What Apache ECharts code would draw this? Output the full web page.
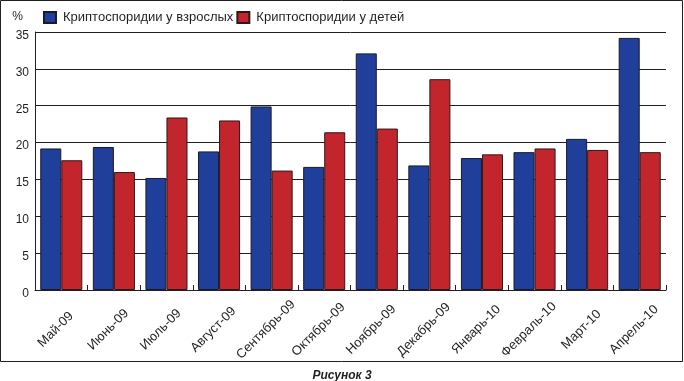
<!DOCTYPE html>
<html>
<head>
<meta charset="utf-8">
<script src="https://cdn.jsdelivr.net/npm/echarts@6/dist/echarts.min.js"></script>
<style>
html,body{margin:0;padding:0;background:#fff;}
#chart{width:684px;height:381px;}
</style>
</head>
<body>
<div id="chart"></div>
<script>
const categories = ['Май-09','Июнь-09','Июль-09','Август-09','Сентябрь-09','Октябрь-09','Ноябрь-09','Декабрь-09','Январь-10','Февраль-10','Март-10','Апрель-10'];
const adults = [19.2, 19.4, 15.2, 18.8, 24.9, 16.7, 32.1, 16.9, 17.9, 18.7, 20.5, 34.2];
const children = [17.6, 16.0, 23.4, 23.0, 16.2, 21.4, 21.9, 28.6, 18.4, 19.2, 19.0, 18.7];
const seriesNames = ['Криптоспоридии у взрослых', 'Криптоспоридии у детей'];
const yTicks = [0, 5, 10, 15, 20, 25, 30, 35];

const FONT = '"Liberation Sans", Arial, sans-serif';
const chart = echarts.init(document.getElementById('chart'), null, {renderer: 'canvas'});
chart.setOption({
  animation: false,
  backgroundColor: '#fff',
  textStyle: {fontFamily: FONT},
  title: {
    text: 'Рисунок 3',
    left: 'center',
    top: 365,
    textStyle: {fontFamily: FONT, fontSize: 12, fontWeight: 'bold', fontStyle: 'italic', color: '#231f20'}
  },
  graphic: [{
    type: 'rect',
    shape: {x: 0.5, y: 0.5, width: 682, height: 361},
    style: {fill: 'none', stroke: '#231f20', lineWidth: 1},
    silent: true
  }],
  legend: {
    data: seriesNames,
    left: 43,
    top: 11,
    padding: 0,
    icon: 'rect',
    itemWidth: 12,
    itemHeight: 11,
    itemGap: 3,
    textStyle: {fontFamily: FONT, fontSize: 13, color: '#231f20', padding: [0, 0, 0, 2]}
  },
  grid: {left: 35, right: 18, top: 32, bottom: 91, containLabel: false},
  xAxis: {
    type: 'category',
    data: categories,
    boundaryGap: true,
    axisLine: {show: true, lineStyle: {color: '#231f20', width: 1}},
    axisTick: {show: true, inside: true, length: 5, alignWithLabel: false, lineStyle: {color: '#231f20'}},
    axisLabel: {
      interval: 0,
      rotate: 45,
      align: 'center',
      verticalAlign: 'middle',
      margin: 34,
      padding: [0, 16, 0, 0],
      fontFamily: FONT,
      fontSize: 13,
      color: '#231f20'
    },
    splitLine: {show: false}
  },
  yAxis: {
    type: 'value',
    min: yTicks[0],
    max: yTicks[yTicks.length - 1],
    interval: 5,
    name: '%',
    nameLocation: 'end',
    nameGap: 15,
    nameTextStyle: {fontFamily: FONT, fontSize: 12, color: '#231f20', align: 'right', verticalAlign: 'middle', padding: [4, 12, 0, 0]},
    axisLine: {show: true, lineStyle: {color: '#231f20', width: 1}},
    axisTick: {show: false},
    axisLabel: {
      margin: 6,
      formatter: '{v|{value}}',
      rich: {v: {fontFamily: FONT, fontSize: 12, color: '#231f20', padding: [7, 0, 0, 0]}}
    },
    splitLine: {show: true, lineStyle: {color: '#231f20', width: 1}}
  },
  series: [
    {
      name: seriesNames[0],
      type: 'bar',
      data: adults,
      barGap: '0%',
      barCategoryGap: '20%',
      itemStyle: {color: '#203f9a', borderColor: '#1a1a2a', borderWidth: 1}
    },
    {
      name: seriesNames[1],
      type: 'bar',
      data: children,
      barGap: '0%',
      barCategoryGap: '20%',
      itemStyle: {color: '#c3252d', borderColor: '#2a1a1a', borderWidth: 1}
    }
  ]
});
</script>
</body>
</html>
